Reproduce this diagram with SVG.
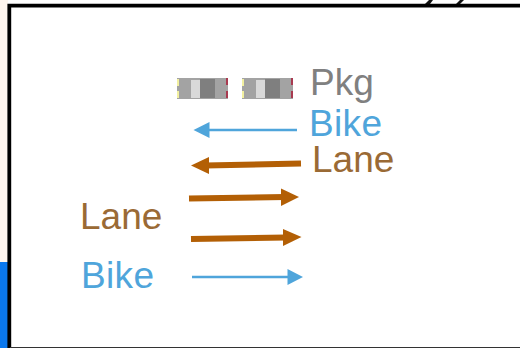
<svg xmlns="http://www.w3.org/2000/svg" width="520" height="348" viewBox="0 0 520 348">
<style>
text{font-family:"Liberation Sans",Arial,sans-serif;font-size:37px}
.bike{stroke:#4fa5db;stroke-width:2.5;fill:none}
.lane{stroke:#b35f05;stroke-width:6;fill:none}
.hb{fill:#4fa5db}.hl{fill:#b35f05}
</style>
<defs>
<g id="pkg">
<rect x="0" y="0" width="51" height="21" fill="#a3a3a3"/>
<rect x="14" y="2" width="9" height="18" fill="#d9d9d9"/>
<rect x="23" y="1" width="15" height="19" fill="#7f7f7f"/>
<rect x="0" y="1" width="2" height="7" fill="#f2f0a0"/>
<rect x="0" y="13" width="2" height="7" fill="#f2f0a0"/>
<rect x="49" y="0" width="2" height="7" fill="#a83a50"/>
<rect x="49" y="13" width="2" height="7" fill="#a83a50"/>
</g>
</defs>
<rect width="520" height="348" fill="#fff"/>
<rect x="0" y="0" width="8" height="262" fill="#fff6ef"/>
<rect x="0" y="262" width="8" height="86" fill="#0a78ee"/>
<path d="M425 4L429 0H433L430 4ZM456 4L460 0H464L460 4Z" fill="#111"/>
<path d="M9.300 348V5.700H520" fill="none" stroke="#000" stroke-width="3.800"/>
<path d="M10 347.500H520" stroke="#333" stroke-width="1"/>
<g id="pkg-1"><use href="#pkg" x="177" y="78"/></g>
<g id="pkg-2"><use href="#pkg" x="242" y="78"/></g>
<g id="connectors">
<path class="bike" d="M297 130H205"/><path class="hb" d="M193.500 130L209.500 122V138Z"/>
<path class="lane" d="M301 163.500L205 165.500"/><path class="hl" d="M191 165.500L209 157V174Z"/>
<path class="lane" d="M189 198.500L285 197"/><path class="hl" d="M299 197L281 188.500V206Z"/>
<path class="lane" d="M191 239L286 237.500"/><path class="hl" d="M301.500 237L283 229V246Z"/>
<path class="bike" d="M192 277H290"/><path class="hb" d="M303 277L287.500 269V285Z"/>
</g>
<g id="label-pkg"><text x="310" y="95" fill="#808080">Pkg</text></g>
<g id="label-bike-1"><text x="309" y="136" fill="#4fa5db" textLength="73">Bike</text></g>
<g id="label-lane-1"><text x="312" y="172" fill="#9a6a35">Lane</text></g>
<g id="label-lane-2"><text x="80" y="229" fill="#9a6a35">Lane</text></g>
<g id="label-bike-2"><text x="81" y="288" fill="#4fa5db" textLength="73">Bike</text></g>
</svg>
